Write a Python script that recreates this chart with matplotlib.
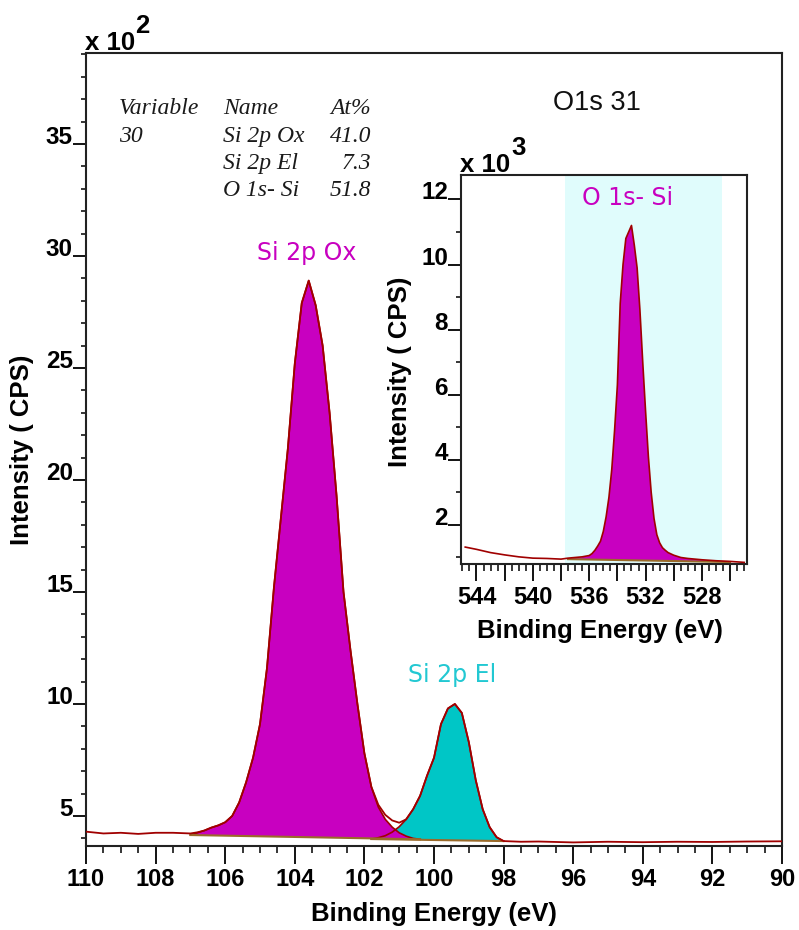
import numpy as np
import matplotlib.pyplot as plt
from matplotlib.ticker import MultipleLocator, FuncFormatter

plt.rcParams['font.family'] = ['Liberation Sans', 'DejaVu Sans']

# Si 2p survey trace, intensity in units of 100 CPS
si_energy = [110.0, 109.5, 109.0, 108.5, 108.0, 107.5, 107.0, 106.8, 106.6, 106.4,
             106.2, 106.0, 105.8, 105.6, 105.4, 105.2, 105.0, 104.8, 104.6, 104.4,
             104.2, 104.0, 103.8, 103.6, 103.4, 103.2, 103.0, 102.8, 102.6, 102.4,
             102.2, 102.0, 101.8, 101.6, 101.4, 101.2, 101.0, 100.8, 100.6, 100.4,
             100.2, 100.0, 99.8, 99.6, 99.4, 99.2, 99.0, 98.8, 98.6, 98.4,
             98.2, 98.0, 97.5, 97.0, 96.0, 95.0, 94.0, 93.0, 92.0, 91.0, 90.0]
si_counts = [4.30, 4.22, 4.25, 4.20, 4.25, 4.25, 4.22, 4.27, 4.35, 4.48,
             4.58, 4.72, 5.00, 5.60, 6.50, 7.60, 9.10, 11.6, 15.2, 18.3,
             21.4, 25.2, 27.9, 28.9, 27.8, 26.0, 23.0, 19.3, 15.0, 12.4,
             10.0, 7.80, 6.30, 5.50, 5.05, 4.80, 4.70, 4.85, 5.30, 5.90,
             6.80, 7.60, 9.10, 9.80, 10.0, 9.60, 8.30, 6.60, 5.30, 4.50,
             4.05, 3.88, 3.85, 3.86, 3.82, 3.85, 3.83, 3.85, 3.84, 3.86, 3.87]

# fitted components
ox_energy = [107.0, 106.8, 106.6, 106.4, 106.2, 106.0, 105.8, 105.6, 105.4, 105.2,
             105.0, 104.8, 104.6, 104.4, 104.2, 104.0, 103.8, 103.6, 103.4, 103.2,
             103.0, 102.8, 102.6, 102.4, 102.2, 102.0, 101.8, 101.6, 101.4, 101.2,
             101.0, 100.8, 100.6, 100.4]
ox_counts = [4.15, 4.25, 4.35, 4.48, 4.58, 4.72, 5.00, 5.60, 6.50, 7.60,
             9.10, 11.6, 15.2, 18.3, 21.4, 25.2, 27.9, 28.9, 27.8, 26.0,
             23.0, 19.3, 15.0, 12.4, 10.0, 7.80, 6.30, 5.40, 4.85, 4.50,
             4.25, 4.10, 4.00, 3.96]

el_energy = [101.8, 101.6, 101.4, 101.2, 101.0, 100.8, 100.6, 100.4, 100.2, 100.0,
             99.8, 99.6, 99.4, 99.2, 99.0, 98.8, 98.6, 98.4, 98.2, 98.0]
el_counts = [3.97, 4.03, 4.12, 4.28, 4.52, 4.85, 5.30, 5.90, 6.80, 7.60,
             9.10, 9.80, 10.0, 9.60, 8.30, 6.60, 5.30, 4.50, 4.05, 3.88]

# O 1s trace for the inset, intensity in units of 1000 CPS
o_energy = [544.8, 544.0, 543.0, 542.0, 541.0, 540.0, 539.0, 538.0, 537.5, 537.0,
            536.5, 536.0, 535.8, 535.6, 535.4, 535.2, 535.0, 534.8, 534.6, 534.4,
            534.2, 534.0, 533.8, 533.6, 533.4, 533.2, 533.0, 532.8, 532.6, 532.4,
            532.2, 532.0, 531.8, 531.6, 531.4, 531.2, 531.0, 530.8, 530.6, 530.4,
            530.0, 529.5, 529.0, 528.0, 527.0, 526.0, 525.0]
o_counts = [1.32, 1.25, 1.15, 1.08, 1.02, 0.98, 0.97, 0.95, 0.98, 1.00,
            1.02, 1.06, 1.12, 1.22, 1.35, 1.50, 1.80, 2.25, 2.85, 3.70,
            4.90, 6.30, 8.80, 10.0, 10.8, 11.0, 11.2, 10.6, 9.90, 8.60,
            7.00, 5.50, 4.10, 3.00, 2.20, 1.70, 1.45, 1.30, 1.22, 1.15,
            1.07, 1.00, 0.97, 0.93, 0.90, 0.88, 0.85]

o1s_energy = [537.5, 537.0, 536.5, 536.0, 535.8, 535.6, 535.4, 535.2, 535.0, 534.8,
              534.6, 534.4, 534.2, 534.0, 533.8, 533.6, 533.4, 533.2, 533.0, 532.8,
              532.6, 532.4, 532.2, 532.0, 531.8, 531.6, 531.4, 531.2, 531.0, 530.8,
              530.6, 530.4, 530.0, 529.5, 529.0, 528.0, 527.0, 526.0]
o1s_counts = [0.95, 0.99, 1.01, 1.05, 1.11, 1.21, 1.34, 1.50, 1.80, 2.25,
              2.85, 3.70, 4.90, 6.30, 8.80, 10.0, 10.8, 11.0, 11.2, 10.6,
              9.90, 8.60, 7.00, 5.50, 4.10, 3.00, 2.20, 1.70, 1.45, 1.30,
              1.22, 1.15, 1.07, 1.00, 0.97, 0.93, 0.90, 0.86]
o1s_region = (537.7, 526.6)

quant_rows = [("Si 2p Ox", "41.0"), ("Si 2p El", "7.3"), ("O 1s- Si", "51.8")]

MAGENTA = "#C800C0"
CYAN = "#00C6C6"
TRACE = "#A00000"
BASE = "#9A6A2A"
W, H = 799, 930


def fx(px):
    return px / W


def fy(py):
    return 1 - py / H


def style_axis(ax, xmajor_len, ymajor_len):
    for s in ax.spines.values():
        s.set_linewidth(1.5)
        s.set_color("#222222")
    ax.tick_params(axis="x", which="major", direction="out", length=xmajor_len,
                   width=1.3, pad=3, labelsize=17)
    ax.tick_params(axis="x", which="minor", direction="out", length=5, width=1.1)
    ax.tick_params(axis="y", which="major", direction="out", length=ymajor_len,
                   width=1.3, pad=0, labelsize=17.5)
    ax.tick_params(axis="y", which="minor", direction="out", length=3.6, width=1.1)
    for lab in ax.get_xticklabels() + ax.get_yticklabels():
        lab.set_fontweight("bold")
    for lab in ax.get_yticklabels():
        lab.set_verticalalignment("baseline")


fig = plt.figure(figsize=(W / 100, H / 100), dpi=100)

# main panel
ax = fig.add_axes([fx(86), fy(846), fx(782) - fx(86), fy(53) - fy(846)])
ax.fill(el_energy, el_counts, color=CYAN, lw=0, zorder=2)
ax.fill(ox_energy, ox_counts, color=MAGENTA, lw=0, zorder=3)
ax.plot(ox_energy, ox_counts, color=TRACE, lw=1.2, zorder=4)
ax.plot(el_energy, el_counts, color=TRACE, lw=1.2, zorder=4)
ax.plot([ox_energy[0], ox_energy[-1]], [ox_counts[0], ox_counts[-1]], color=BASE, lw=1.5, zorder=4)
ax.plot([el_energy[0], el_energy[-1]], [el_counts[0], el_counts[-1]], color=BASE, lw=1.5, zorder=4)
ax.plot(si_energy, si_counts, color=TRACE, lw=1.3, zorder=5)
ax.set_xlim(110, 90)
ax.set_ylim(3.66, 39.06)
ax.set_xticks(np.arange(110, 89, -2))
ax.xaxis.set_minor_locator(MultipleLocator(0.5))
ax.set_yticks(np.arange(5, 36, 5))
ax.yaxis.set_minor_locator(MultipleLocator(1))
style_axis(ax, 13, 9.4)

fig.text(fx(434), fy(921), "Binding Energy (eV)", ha="center", va="baseline",
         fontsize=18.5, fontweight="bold")
fig.text(fx(22), fy(450), "Intensity ( CPS)", ha="center", va="center",
         rotation=90, fontsize=18.5, fontweight="bold")
fig.text(fx(85), fy(50), "x 10", ha="left", va="baseline", fontsize=18.5, fontweight="bold")
fig.text(fx(135), fy(33), "2", ha="left", va="baseline", fontsize=18.5, fontweight="bold")

fig.text(fx(553), fy(110), "O1s 31", ha="left", va="baseline", fontsize=19.5, color="#111111")
fig.text(fx(307), fy(260), "Si 2p Ox", ha="center", va="baseline", fontsize=17,
         color=MAGENTA, family="DejaVu Sans")
fig.text(fx(452), fy(682), "Si 2p El", ha="center", va="baseline", fontsize=17,
         color="#22C8D2", family="DejaVu Sans")

# quantification table
tkw = dict(va="baseline", fontsize=17, style="italic", family="Liberation Serif", color="#1a1a1a")
fig.text(fx(119), fy(114), "Variable", ha="left", **tkw)
fig.text(fx(223), fy(114), "Name", ha="left", **tkw)
fig.text(fx(371), fy(114), "At%", ha="right", **tkw)
fig.text(fx(119), fy(142), "30", ha="left", **tkw)
for i, (name, pct) in enumerate(quant_rows):
    y = 142 + i * 27
    fig.text(fx(223), fy(y), name, ha="left", **tkw)
    fig.text(fx(371), fy(y), pct, ha="right", **tkw)

# inset panel
ins = fig.add_axes([fx(461), fy(564), fx(747) - fx(461), fy(175) - fy(564)])
ins.axvspan(o1s_region[0], o1s_region[1], color="#E0FCFC", lw=0, zorder=0)
ins.fill(o1s_energy, o1s_counts, color=MAGENTA, lw=0, zorder=2)
ins.plot([o1s_energy[0], o1s_energy[-1]], [o1s_counts[0], o1s_counts[-1]], color=BASE, lw=1.5, zorder=3)
ins.plot(o_energy, o_counts, color=TRACE, lw=1.2, zorder=4)
ins.set_xlim(545.1, 524.8)
ins.set_ylim(0.8, 12.75)
ins.xaxis.set_major_locator(MultipleLocator(2))
ins.xaxis.set_minor_locator(MultipleLocator(0.5))
ins.xaxis.set_major_formatter(FuncFormatter(lambda v, p: f"{v:.0f}" if round(v) % 4 == 0 else ""))
ins.set_yticks(np.arange(2, 13, 2))
ins.yaxis.set_minor_locator(MultipleLocator(1))
style_axis(ins, 12.5, 9.4)

fig.text(fx(600), fy(638), "Binding Energy (eV)", ha="center", va="baseline",
         fontsize=18.5, fontweight="bold")
fig.text(fx(400), fy(372), "Intensity ( CPS)", ha="center", va="center",
         rotation=90, fontsize=18.5, fontweight="bold")
fig.text(fx(460), fy(172), "x 10", ha="left", va="baseline", fontsize=18.5, fontweight="bold")
fig.text(fx(511), fy(155), "3", ha="left", va="baseline", fontsize=18.5, fontweight="bold")
fig.text(fx(628), fy(205), "O 1s- Si", ha="center", va="baseline", fontsize=17,
         color=MAGENTA, family="DejaVu Sans")

fig.savefig("out.png", dpi=100)
